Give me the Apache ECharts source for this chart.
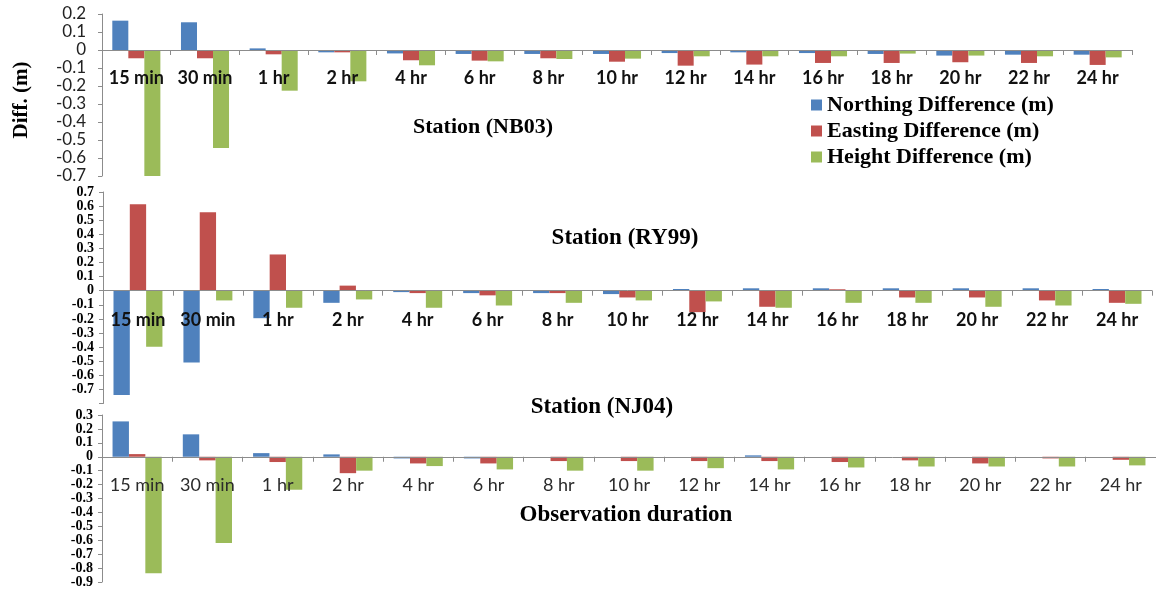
<!DOCTYPE html>
<html>
<head>
<meta charset="utf-8">
<title>Position differences by observation duration</title>
<script src="https://cdn.jsdelivr.net/npm/echarts@6/dist/echarts.min.js"></script>
<style>
  html, body { margin: 0; padding: 0; background: #ffffff; }
  #chart { width: 1156px; height: 590px; }
</style>
</head>
<body>
<div id="chart"></div>
<script>
// Observation durations (shared by all three stations)
var durations = ['15 min', '30 min', '1 hr', '2 hr', '4 hr', '6 hr', '8 hr', '10 hr',
                 '12 hr', '14 hr', '16 hr', '18 hr', '20 hr', '22 hr', '24 hr'];

var seriesNames = ['Northing Difference (m)', 'Easting Difference (m)', 'Height Difference (m)'];

// Station NB03
var nb03North  = [0.163, 0.154, 0.009, -0.013, -0.019, -0.022, -0.022, -0.022, -0.017, -0.013, -0.017, -0.022, -0.031, -0.026, -0.026];
var nb03East   = [-0.046, -0.046, -0.024, -0.013, -0.057, -0.059, -0.046, -0.065, -0.087, -0.081, -0.072, -0.072, -0.068, -0.072, -0.083];
var nb03Height = [-0.700, -0.544, -0.226, -0.174, -0.085, -0.063, -0.050, -0.048, -0.035, -0.035, -0.035, -0.020, -0.031, -0.035, -0.041];

// Station RY99
var ry99North  = [-0.740, -0.510, -0.195, -0.086, -0.010, -0.017, -0.017, -0.024, 0.012, 0.017, 0.017, 0.017, 0.017, 0.017, 0.012];
var ry99East   = [0.614, 0.557, 0.257, 0.036, -0.017, -0.033, -0.017, -0.048, -0.152, -0.114, 0.010, -0.048, -0.048, -0.069, -0.086];
var ry99Height = [-0.398, -0.069, -0.121, -0.062, -0.121, -0.105, -0.086, -0.069, -0.076, -0.121, -0.086, -0.086, -0.114, -0.105, -0.093];

// Station NJ04
var nj04North  = [0.254, 0.161, 0.026, 0.017, -0.012, -0.012, 0, 0, 0, 0.010, 0, 0, 0, 0, 0];
var nj04East   = [0.019, -0.026, -0.038, -0.118, -0.048, -0.048, -0.031, -0.031, -0.031, -0.031, -0.038, -0.026, -0.048, -0.012, -0.022];
var nj04Height = [-0.837, -0.619, -0.237, -0.100, -0.067, -0.091, -0.100, -0.100, -0.082, -0.091, -0.077, -0.070, -0.070, -0.070, -0.062];

var colors = ['#4F81BD', '#C0504D', '#9BBB59'];
var stations = [
  [nb03North, nb03East, nb03Height],
  [ry99North, ry99East, ry99Height],
  [nj04North, nj04East, nj04Height]
];

var serifFamily = '"Liberation Serif", "DejaVu Serif", serif';
var sansFamily = 'Lato, "Open Sans", sans-serif';
var axisGray = '#8c8c8c';

function fmt(v) {
  return String(Math.round(v * 10) / 10);
}

var grids = [
  { left: 102, right: 24, top: 14, height: 162, outerBoundsMode: 'none' },
  { left: 103, right: 4, top: 192, height: 211.5, outerBoundsMode: 'none' },
  { left: 102, right: 0, top: 415, height: 167, outerBoundsMode: 'none' }
];

var yRanges = [
  { min: -0.7, max: 0.2 },
  { min: -0.8, max: 0.7 },
  { min: -0.9, max: 0.3 }
];

var xLabelStyles = [
  { fontFamily: sansFamily, fontWeight: 'bold', fontSize: 18, color: '#111', margin: 19 },
  { fontFamily: sansFamily, fontWeight: 'bold', fontSize: 18, color: '#111', margin: 20 },
  { fontFamily: sansFamily, fontWeight: 'normal', fontSize: 18, color: '#2b2b2b', margin: 19 }
];

var xAxes = [], yAxes = [], series = [];
for (var g = 0; g < 3; g++) {
  // the category axis sits on the zero line of its panel
  var zeroShift = (0 - yRanges[g].min) / (yRanges[g].max - yRanges[g].min) * grids[g].height;
  xAxes.push({
    type: 'category',
    gridIndex: g,
    data: durations,
    position: 'bottom',
    offset: -zeroShift,
    z: 5,
    axisLine: { onZero: false, lineStyle: { color: axisGray, width: 1 } },
    axisTick: { show: true, inside: false, length: 5, lineStyle: { color: axisGray } },
    axisLabel: Object.assign({ interval: 0 }, xLabelStyles[g])
  });
  var yLabel;
  if (g === 0) {
    yLabel = { fontFamily: sansFamily, fontSize: 17, color: '#222', margin: 16, formatter: fmt };
  } else {
    yLabel = {
      fontFamily: serifFamily, fontWeight: 'bold', color: '#000', fontSize: 14, margin: 9,
      formatter: (function (gi) {
        return function (v) {
          // the lowest value of the middle panel carries no label
          if (gi === 1 && Math.abs(v + 0.8) < 1e-6) { return ''; }
          return fmt(v);
        };
      })(g)
    };
  }
  yAxes.push({
    type: 'value',
    gridIndex: g,
    min: yRanges[g].min,
    max: yRanges[g].max,
    interval: 0.1,
    splitLine: { show: false },
    axisLine: { show: true, lineStyle: { color: axisGray, width: 1 } },
    axisTick: { show: true, inside: false, length: 4, lineStyle: { color: axisGray } },
    axisLabel: yLabel
  });
  for (var s = 0; s < 3; s++) {
    series.push({
      name: seriesNames[s],
      type: 'bar',
      xAxisIndex: g,
      yAxisIndex: g,
      data: stations[g][s],
      barGap: '0%',
      barCategoryGap: '30%',
      clip: false,
      itemStyle: { color: colors[s] },
      emphasis: { disabled: true }
    });
  }
}

function label(text, x, y, size, rot) {
  return {
    type: 'text', x: x, y: y, rotation: rot || 0, z: 10,
    style: { text: text, font: 'bold ' + size + 'px ' + serifFamily, fill: '#000',
             align: 'center', verticalAlign: 'middle' }
  };
}

var chart = echarts.init(document.getElementById('chart'), null, { renderer: 'canvas' });
chart.setOption({
  animation: false,
  backgroundColor: '#ffffff',
  color: colors,
  grid: grids,
  xAxis: xAxes,
  yAxis: yAxes,
  series: series,
  legend: {
    orient: 'vertical',
    left: 806,
    top: 89,
    itemWidth: 11,
    itemHeight: 11,
    itemGap: 4,
    icon: 'rect',
    data: seriesNames,
    textStyle: { fontFamily: serifFamily, fontWeight: 'bold', color: '#000', fontSize: 22, lineHeight: 18 }
  },
  graphic: [
    label('Station (NB03)', 483, 127, 22),
    label('Station (RY99)', 625, 238, 23),
    label('Station (NJ04)', 602, 407, 23),
    label('Observation duration', 626, 515, 23),
    label('Diff. (m)', 22, 100, 21, Math.PI / 2)
  ]
});
</script>
</body>
</html>
